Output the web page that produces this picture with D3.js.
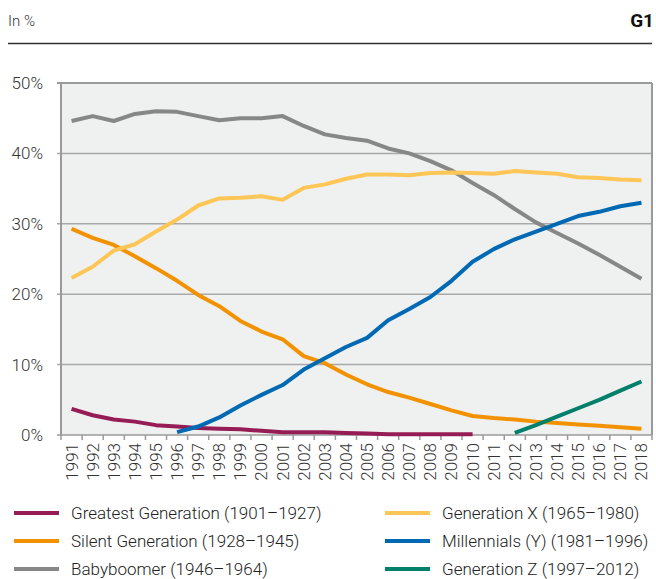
<!DOCTYPE html>
<meta charset="utf-8">
<script src="https://d3js.org/d3.v7.min.js"></script>
<style>
  body { margin: 0; background: #fff; }
  text { font-family: Roboto, "Noto Sans", sans-serif; }
</style>
<div id="chart"></div>
<script>

// years on the x axis
var years = d3.range(1991, 2019).map(String);

// shares in %, one entry per year from the first year the series appears
var greatest = [3.7, 2.8, 2.2, 1.9, 1.4, 1.2, 1.0, 0.9, 0.8, 0.6, 0.4, 0.4, 0.4, 0.3, 0.2, 0.1, 0.1, 0.1, 0.1, 0.1];
var silent = [29.3, 28.0, 27.0, 25.4, 23.7, 21.9, 19.9, 18.3, 16.2, 14.7, 13.6, 11.2, 10.2, 8.6, 7.2, 6.1, 5.3, 4.4, 3.5, 2.7, 2.4, 2.2, 1.9, 1.7, 1.5, 1.3, 1.1, 0.9];
var boomer = [44.6, 45.3, 44.6, 45.6, 46.0, 45.9, 45.3, 44.7, 45.0, 45.0, 45.3, 43.9, 42.7, 42.2, 41.8, 40.7, 40.0, 38.9, 37.6, 35.8, 34.1, 32.1, 30.2, 28.7, 27.2, 25.6, 23.9, 22.2];
var genX = [22.3, 23.9, 26.2, 27.1, 28.9, 30.6, 32.6, 33.6, 33.7, 33.9, 33.4, 35.1, 35.6, 36.4, 37.0, 37.0, 36.9, 37.2, 37.3, 37.2, 37.1, 37.5, 37.3, 37.1, 36.6, 36.5, 36.3, 36.2];
var millennials = [0.4, 1.2, 2.5, 4.2, 5.7, 7.1, 9.3, 10.9, 12.5, 13.8, 16.3, 17.9, 19.6, 21.9, 24.6, 26.4, 27.8, 28.9, 30.0, 31.1, 31.7, 32.5, 33.0];
var genZ = [0.3, 1.4, 2.6, 3.8, 5.0, 6.3, 7.6];

var yTicks = [0, 10, 20, 30, 40, 50];

var series = [
  { name: "Greatest Generation (1901\u20131927)", start: "1991", values: greatest, color: "#951c55" },
  { name: "Silent Generation (1928\u20131945)", start: "1991", values: silent, color: "#f39200" },
  { name: "Babyboomer (1946\u20131964)", start: "1991", values: boomer, color: "#878787" },
  { name: "Generation X (1965\u20131980)", start: "1991", values: genX, color: "#fec656" },
  { name: "Millennials (Y) (1981\u20131996)", start: "1996", values: millennials, color: "#0069b4" },
  { name: "Generation Z (1997\u20132012)", start: "2012", values: genZ, color: "#00806a" }
];

var width = 656, height = 579;
var plotLeft = 61, plotRight = 652, plotTop = 83, plotBottom = 435;

var svg = d3.select("#chart").append("svg")
    .attr("width", width)
    .attr("height", height);

// header
svg.append("text").attr("x", 8).attr("y", 26).text("In %")
    .style("font-size", "15px").style("font-weight", 300).style("fill", "#333");
svg.append("text").attr("x", 654).attr("y", 27).text("G1")
    .attr("text-anchor", "end")
    .style("font-size", "19px").style("font-weight", "bold").style("fill", "#111");
svg.append("line").attr("x1", 8).attr("x2", 652).attr("y1", 43.5).attr("y2", 43.5)
    .style("stroke", "#333").style("stroke-width", 1.5);

var x = d3.scaleBand().domain(years).range([plotLeft, plotRight]);
var y = d3.scaleLinear().domain([0, 50]).range([plotBottom, plotTop]);

// plot background
svg.append("rect")
    .attr("x", plotLeft).attr("y", plotTop)
    .attr("width", plotRight - plotLeft).attr("height", plotBottom - plotTop)
    .style("fill", "#eff0f0");

// gridlines
svg.append("g").selectAll("line").data(yTicks).enter().append("line")
    .attr("x1", plotLeft - 4).attr("x2", plotRight)
    .attr("y1", function(d) { return y(d); })
    .attr("y2", function(d) { return y(d); })
    .style("stroke", function(d) { return d == 50 || d == 0 ? "#9a9a9a" : "#a8a8a8"; })
    .style("stroke-width", function(d) { return d == 50 ? 2 : 1.5; });

// left / right border
svg.append("line").attr("x1", plotLeft).attr("x2", plotLeft).attr("y1", plotTop).attr("y2", plotBottom)
    .style("stroke", "#9a9a9a").style("stroke-width", 2);
svg.append("line").attr("x1", plotRight).attr("x2", plotRight).attr("y1", plotTop).attr("y2", plotBottom)
    .style("stroke", "#9a9a9a").style("stroke-width", 2);

// y labels
svg.append("g").selectAll("text").data(yTicks).enter().append("text")
    .attr("x", 43)
    .attr("y", function(d) { return y(d); })
    .attr("dy", "0.35em")
    .attr("text-anchor", "end")
    .text(function(d) { return d + "%"; })
    .style("font-size", "17px").style("font-weight", 300).style("fill", "#333");

// x ticks between the years
svg.append("g").selectAll("line").data(years.concat(["end"])).enter().append("line")
    .attr("x1", function(d, i) { return plotLeft + i * x.step(); })
    .attr("x2", function(d, i) { return plotLeft + i * x.step(); })
    .attr("y1", plotBottom).attr("y2", plotBottom + 5)
    .style("stroke", "#9a9a9a").style("stroke-width", 1.5);

// x labels, rotated
svg.append("g").selectAll("text").data(years).enter().append("text")
    .attr("transform", function(d) {
      return "translate(" + (x(d) + x.bandwidth() / 2) + "," + (plotBottom + 8) + ") rotate(-90)";
    })
    .attr("dy", "0.35em")
    .attr("text-anchor", "end")
    .text(function(d) { return d; })
    .style("font-size", "17px").style("font-weight", 300).style("fill", "#333");

// lines
var line = d3.line()
    .x(function(d) { return x(d.year) + x.bandwidth() / 2; })
    .y(function(d) { return y(d.value); });

series.forEach(function(s) {
  var i0 = years.indexOf(s.start);
  var pts = s.values.map(function(v, i) { return { year: years[i0 + i], value: v }; });
  svg.append("path")
      .datum(pts)
      .attr("d", line)
      .style("fill", "none")
      .style("stroke", s.color)
      .style("stroke-width", 4)
      .style("stroke-linejoin", "round");
});

// legend
var legend = svg.append("g").selectAll("g").data(series).enter().append("g")
    .attr("transform", function(d, i) {
      var col = Math.floor(i / 3), row = i % 3;
      return "translate(" + (col == 0 ? 14 : 385) + "," + (513 + row * 28) + ")";
    });
legend.append("line")
    .attr("x1", 0).attr("x2", 45).attr("y1", 0).attr("y2", 0)
    .style("stroke", function(d) { return d.color; })
    .style("stroke-width", 4);
legend.append("text")
    .attr("x", 57).attr("y", 0).attr("dy", "0.35em")
    .text(function(d) { return d.name; })
    .style("font-size", "17px").style("font-weight", 300).style("fill", "#222");

</script>
